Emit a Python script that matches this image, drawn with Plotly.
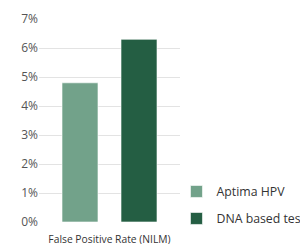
import plotly.graph_objects as go

categories = ["False Positive Rate (NILM)"]
series_names = ["Aptima HPV", "DNA based test"]
aptima = [4.8]
dna = [6.3]
tick_vals = [0, 1, 2, 3, 4, 5, 6, 7]
tick_text = ["0%", "1%", "2%", "3%", "4%", "5%", "6%", "7%"]
colors = ["#72a28a", "#245e43"]

fig = go.Figure()
for i, (name, vals, c) in enumerate(zip(series_names, [aptima, dna], colors)):
    fig.add_trace(go.Bar(x=categories, y=vals, name=name, legendgroup=f"g{i}",
                         marker=dict(color=c, line=dict(color="rgba(255,255,255,0.6)", width=1))))

fig.update_layout(
    width=300, height=244,
    margin=dict(l=39, r=120, t=19, b=22, autoexpand=False),
    plot_bgcolor="white", paper_bgcolor="white",
    barmode="group", bargap=0.163, bargroupgap=0.39,
    font=dict(family="Open Sans, sans-serif", color="#444"),
    showlegend=True,
    legend=dict(x=0.975, y=-0.054, xanchor="left", yanchor="bottom",
                font=dict(size=12.3, color="#333"), tracegroupgap=8,
                itemwidth=30, bgcolor="rgba(0,0,0,0)"),
    xaxis=dict(showgrid=False, showline=False, ticks="outside", ticklen=8, tickcolor="rgba(0,0,0,0)",
               tickfont=dict(size=10.3, color="#333")),
    yaxis=dict(range=[0, 7], tickvals=tick_vals, ticktext=tick_text,
               showgrid=True, gridcolor="#e3e3e3", gridwidth=1,
               zeroline=False, showline=False, ticks="",
               tickfont=dict(size=12, color="#555")),
)
fig.write_html("out.html", config={"displayModeBar": False},
               post_script="document.body.style.margin='0';document.body.style.overflow='hidden';")
